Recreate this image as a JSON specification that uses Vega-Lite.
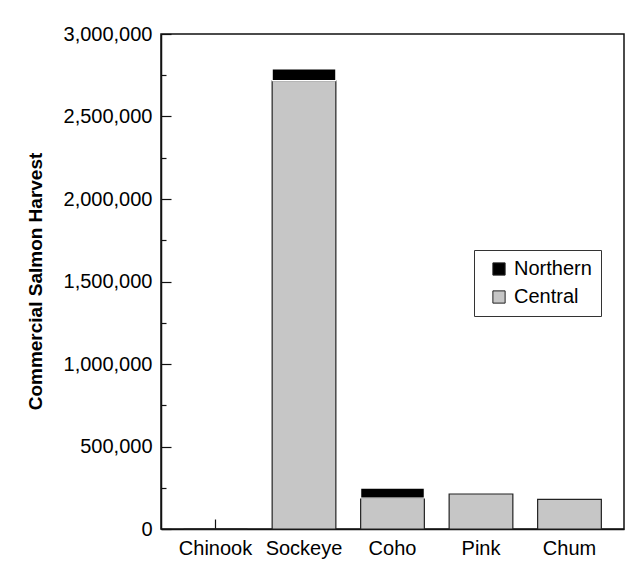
{
  "$schema": "https://vega.github.io/schema/vega-lite/v6.json",
  "width": 463,
  "height": 495,
  "autosize": "none",
  "padding": {"left": 161, "top": 34, "right": 19, "bottom": 44},
  "background": "white",
  "config": {
    "view": {"stroke": "#111", "strokeWidth": 1.5},
    "font": "Liberation Sans"
  },
  "data": {
    "values": [
      {"species": "Chinook", "region": "Central", "harvest": 0},
      {"species": "Sockeye", "region": "Central", "harvest": 2718000},
      {"species": "Sockeye", "region": "Northern", "harvest": 70000},
      {"species": "Coho", "region": "Central", "harvest": 188000},
      {"species": "Coho", "region": "Northern", "harvest": 60000},
      {"species": "Pink", "region": "Central", "harvest": 212000},
      {"species": "Chum", "region": "Central", "harvest": 179000}
    ]
  },
  "mark": {"type": "bar", "strokeWidth": 1.2},
  "encoding": {
    "x": {
      "field": "species",
      "type": "nominal",
      "sort": ["Chinook", "Sockeye", "Coho", "Pink", "Chum"],
      "scale": {"paddingInner": 0.28, "paddingOuter": 0.256},
      "axis": {
        "title": null,
        "labelAngle": 0,
        "labelFontSize": 20,
        "labelColor": "black",
        "labelPadding": 19,
        "tickSize": -10,
        "tickColor": "#111",
        "tickWidth": 1.2,
        "domainColor": "#111",
        "domainWidth": 1.5
      }
    },
    "y": {
      "field": "harvest",
      "type": "quantitative",
      "stack": "zero",
      "scale": {"domain": [0, 3000000], "nice": false},
      "axis": {
        "title": "Commercial Salmon Harvest",
        "titleFontSize": 19,
        "titleFontWeight": "bold",
        "titleColor": "black",
        "titleX": -126,
        "titleY": 247,
        "titleBaseline": "middle",
        "titleAlign": "center",
        "grid": false,
        "values": [0, 250000, 500000, 750000, 1000000, 1250000, 1500000, 1750000, 2000000, 2250000, 2500000, 2750000, 3000000],
        "labelExpr": "datum.value % 500000 === 0 ? format(datum.value, ',') : ''",
        "labelFontSize": 20,
        "labelColor": "black",
        "labelPadding": 19,
        "tickSize": {"condition": {"test": "datum.value % 500000 === 0", "value": -10}, "value": -5},
        "tickColor": "#111",
        "tickWidth": 1.2,
        "domainColor": "#111",
        "domainWidth": 1.5
      }
    },
    "color": {
      "field": "region",
      "type": "nominal",
      "scale": {"domain": ["Northern", "Central"], "range": ["black", "#c6c6c6"]},
      "legend": {
        "title": null,
        "orient": "none",
        "legendX": 313,
        "legendY": 216,
        "strokeColor": "#333",
        "fillColor": "white",
        "padding": 9,
        "rowPadding": 8,
        "symbolOffset": 6,
        "symbolType": "square",
        "symbolSize": 150,
        "symbolStrokeColor": "#222",
        "symbolStrokeWidth": 1,
        "labelFontSize": 20,
        "labelColor": "black",
        "labelOffset": 5
      }
    },
    "order": {"field": "region", "sort": "ascending"},
    "stroke": {
      "condition": {"test": "datum.region === 'Northern'", "value": "white"},
      "value": "#222"
    }
  }
}
